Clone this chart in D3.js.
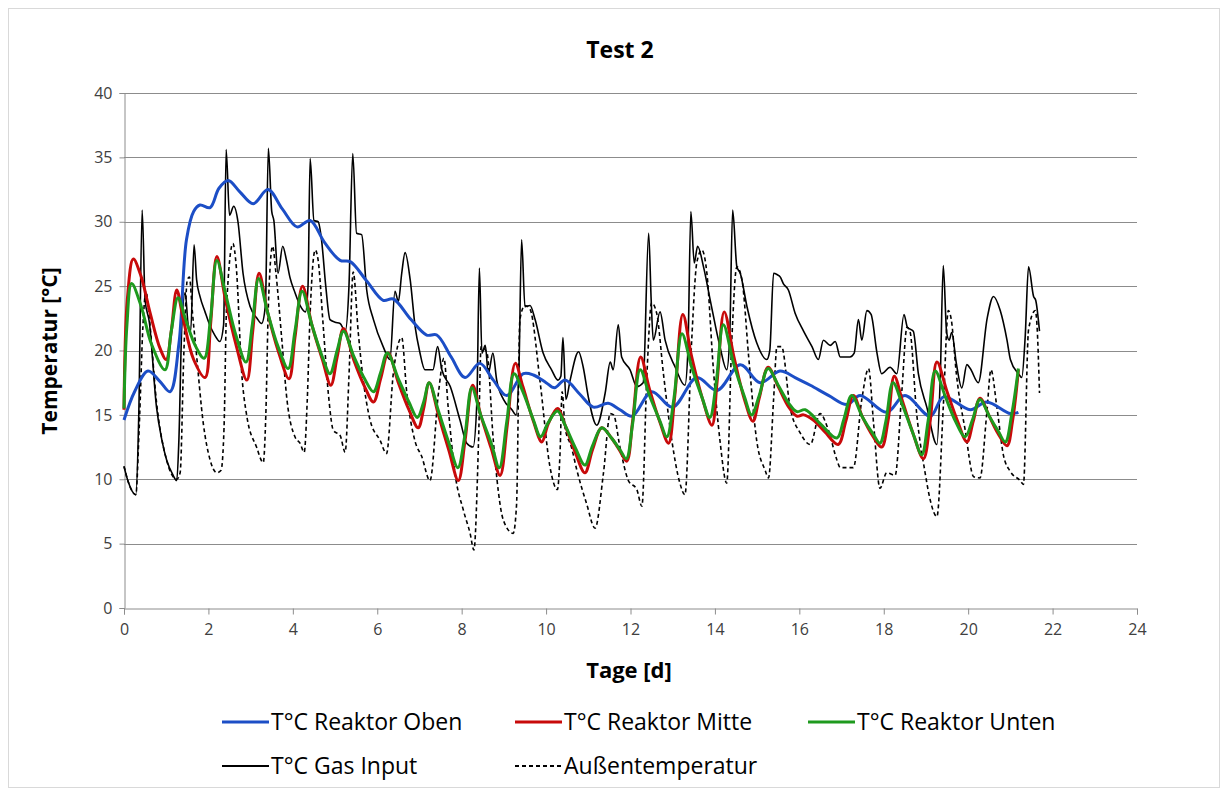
<!DOCTYPE html>
<html>
<head>
<meta charset="utf-8">
<script src="https://cdn.jsdelivr.net/npm/d3@7"></script>
<style>
  body { margin: 0; background: #fff; }
  svg { font-family: "Open Sans", "Liberation Sans", sans-serif; }
</style>
</head>
<body>
<div id="chart"></div>
<script>
'use strict';

// Data: [Tage, °C]
const reaktorOben = [[0,14.6],[0.25,16.8],[0.57,18.4],[0.85,17.6],[1.09,16.8],[1.3,20.5],[1.48,28.6],[1.65,30.8],[1.8,31.3],[2.04,31.1],[2.25,32.6],[2.47,33.2],[2.75,32.3],[3.06,31.4],[3.41,32.5],[3.75,31.0],[4.1,29.6],[4.41,30.1],[4.75,28.4],[5.12,27.0],[5.36,26.9],[5.75,25.4],[6.14,23.9],[6.38,24.0],[6.8,22.4],[7.17,21.2],[7.41,21.2],[7.75,19.5],[8.08,17.9],[8.43,19.0],[8.75,17.7],[9.07,16.5],[9.46,18.2],[9.7,18.1],[10.0,17.5],[10.2,17.1],[10.45,17.7],[10.8,16.6],[11.12,15.6],[11.47,15.9],[11.75,15.4],[12.04,14.9],[12.5,16.8],[13.0,15.6],[13.57,17.9],[14.05,16.9],[14.6,18.9],[15.07,17.5],[15.54,18.4],[15.9,17.9],[16.26,17.3],[16.7,16.5],[17.13,15.8],[17.44,16.5],[18.07,15.2],[18.5,16.5],[19.1,14.9],[19.42,16.4],[20.05,15.4],[20.44,16.0],[21.0,15.1],[21.19,15.2]];

const reaktorMitte = [[0,15.4],[0.08,24],[0.22,27.1],[0.4,25.8],[0.62,22.9],[0.85,20.2],[1.0,19.3],[1.12,21.5],[1.25,24.7],[1.4,22.5],[1.65,19.3],[1.92,17.9],[2.05,22],[2.2,27.3],[2.4,24],[2.65,20.5],[2.91,17.7],[3.05,21.5],[3.2,26.0],[3.4,23],[3.65,20],[3.91,17.8],[4.05,21],[4.23,25.0],[4.45,22],[4.7,19.3],[4.9,17.3],[5.05,19.5],[5.2,21.7],[5.45,19.2],[5.7,17.2],[5.91,16.0],[6.08,17.8],[6.26,19.8],[6.5,17.5],[6.75,15.4],[6.97,14.0],[7.1,15.5],[7.23,17.5],[7.45,15.0],[7.7,12.2],[7.92,9.9],[8.08,13],[8.26,17.3],[8.45,15.0],[8.7,12.4],[8.91,10.3],[9.08,14.2],[9.27,19.0],[9.45,17.2],[9.7,14.5],[9.9,12.9],[10.05,14.3],[10.27,15.5],[10.45,14.2],[10.7,12.0],[10.92,10.5],[11.1,12.3],[11.32,14.0],[11.55,13.2],[11.75,12.2],[11.91,11.4],[12.05,14.5],[12.24,19.5],[12.45,17.0],[12.7,14.4],[12.9,12.8],[13.05,16.5],[13.24,22.8],[13.45,19.5],[13.7,16.3],[13.93,14.2],[14.05,17.5],[14.22,23.0],[14.45,19.5],[14.7,16.2],[14.9,14.5],[15.05,16.3],[15.26,18.7],[15.5,17.2],[15.75,15.6],[15.94,14.9],[16.1,15.0],[16.33,14.6],[16.6,13.7],[16.92,12.7],[17.1,14.5],[17.28,16.5],[17.5,14.8],[17.75,13.3],[17.95,12.5],[18.1,14.5],[18.25,18.0],[18.45,16.0],[18.7,13.5],[18.94,11.6],[19.1,14.5],[19.26,19.1],[19.5,16.8],[19.75,14.5],[19.97,12.9],[20.12,14.5],[20.28,16.3],[20.5,14.9],[20.7,13.6],[20.92,12.6],[21.05,14.5],[21.19,18.5]];

const reaktorUnten = [[0,15.5],[0.07,22],[0.18,25.2],[0.4,23.5],[0.65,20.5],[0.97,18.5],[1.12,21.5],[1.28,24.1],[1.45,22.5],[1.7,20.3],[1.9,19.4],[2.05,22.5],[2.2,27.0],[2.4,24.5],[2.65,21.2],[2.89,19.1],[3.04,22],[3.19,25.6],[3.4,23],[3.65,20.3],[3.89,18.6],[4.05,21.5],[4.22,24.6],[4.45,22],[4.7,19.5],[4.88,18.2],[5.05,20],[5.2,21.5],[5.45,19.5],[5.7,17.8],[5.91,16.8],[6.08,18.3],[6.24,19.8],[6.5,17.8],[6.75,16.0],[6.95,14.8],[7.1,16.0],[7.23,17.5],[7.45,15.3],[7.7,12.8],[7.91,10.9],[8.08,13.5],[8.24,17.1],[8.45,15.0],[8.7,12.8],[8.89,10.9],[9.07,14.5],[9.24,18.2],[9.45,16.8],[9.7,14.6],[9.87,13.3],[10.05,14.4],[10.27,15.3],[10.45,14.2],[10.7,12.4],[10.92,11.1],[11.1,12.6],[11.32,14.0],[11.55,13.2],[11.75,12.3],[11.9,11.6],[12.05,14.3],[12.23,18.5],[12.45,16.5],[12.7,14.5],[12.86,13.3],[13.03,16.3],[13.22,21.3],[13.45,18.7],[13.7,16.3],[13.88,14.8],[14.03,17.5],[14.2,22.0],[14.45,18.9],[14.7,16.4],[14.87,15.0],[15.05,16.5],[15.26,18.6],[15.5,17.3],[15.75,15.9],[15.94,15.25],[16.14,15.4],[16.5,14.3],[16.89,13.2],[17.05,14.6],[17.24,16.5],[17.5,14.8],[17.75,13.5],[17.91,12.8],[18.05,14.5],[18.22,17.5],[18.45,15.7],[18.7,13.5],[18.9,11.9],[19.05,14.5],[19.22,18.4],[19.45,16.5],[19.7,14.5],[19.93,13.3],[20.1,14.6],[20.28,16.2],[20.5,14.9],[20.7,13.8],[20.88,12.9],[21.03,15.0],[21.19,18.6]];

const gasInput = [[0,11.0],[0.1,9.8],[0.28,8.8],[0.35,15],[0.43,30.9],[0.5,23.9],[0.6,22.2],[0.77,15.6],[0.9,13],[1.01,11.5],[1.15,10.4],[1.25,9.9],[1.3,13],[1.37,21.9],[1.45,24.5],[1.52,22],[1.58,21.5],[1.66,28.2],[1.72,25.5],[1.8,24.2],[1.92,23],[2.04,21.9],[2.15,21.2],[2.27,20.7],[2.36,22],[2.42,35.6],[2.5,30.5],[2.6,31.2],[2.7,30],[2.82,26.0],[2.99,23.4],[3.15,22.5],[3.26,22.1],[3.35,23.5],[3.42,35.7],[3.5,30.8],[3.55,30.1],[3.65,26.0],[3.76,28.1],[3.85,27],[3.93,25.7],[4.05,24.5],[4.17,23.5],[4.3,23],[4.36,25],[4.41,34.9],[4.5,30.1],[4.6,30],[4.68,28.6],[4.78,25],[4.88,22.4],[5.0,22.2],[5.12,22.1],[5.24,21.5],[5.33,25],[5.42,35.3],[5.51,29.1],[5.63,29.0],[5.75,24.7],[5.91,22.4],[6.14,20.3],[6.3,19.3],[6.42,24.6],[6.5,23.8],[6.58,26],[6.66,27.6],[6.78,25.5],[6.9,21.8],[7.0,20],[7.13,18.5],[7.32,18.5],[7.43,20.3],[7.53,18.5],[7.73,17.2],[7.96,14.6],[8.12,12.8],[8.27,12.5],[8.36,16],[8.42,26.4],[8.48,19.8],[8.56,20.4],[8.63,18.2],[8.74,19.8],[8.83,17.7],[8.99,16.2],[9.19,15.4],[9.29,15.0],[9.36,19],[9.42,28.6],[9.5,23.4],[9.62,23.5],[9.74,22.4],[9.93,19.8],[10.13,18.5],[10.28,17.7],[10.35,18],[10.4,21.0],[10.47,16.2],[10.57,17.7],[10.77,19.9],[10.88,18.7],[11.0,16.4],[11.2,14.2],[11.4,16.7],[11.52,19.1],[11.59,18.5],[11.71,22.0],[11.79,19.5],[11.99,18.5],[12.15,17.2],[12.3,17.5],[12.43,29.1],[12.49,23.9],[12.54,20.8],[12.7,23.0],[12.82,20.8],[13.06,18.7],[13.29,17.3],[13.36,20],[13.43,30.8],[13.51,26.8],[13.59,28.1],[13.73,26.5],[13.89,23.9],[14.12,20.3],[14.28,18.5],[14.35,21],[14.42,30.9],[14.52,26.5],[14.6,26.0],[14.76,23.4],[14.99,20.6],[15.23,19.3],[15.3,20],[15.39,26.0],[15.47,25.9],[15.55,25.7],[15.62,25.2],[15.74,24.7],[15.9,22.9],[16.1,21.5],[16.3,20.3],[16.45,19.3],[16.57,20.8],[16.73,20.4],[16.85,20.7],[16.97,19.5],[17.2,19.5],[17.3,19.8],[17.4,22.4],[17.48,20.8],[17.6,23.1],[17.7,22.8],[17.84,19.8],[17.95,18.2],[18.15,18.7],[18.31,18.2],[18.48,22.8],[18.56,21.8],[18.7,21.5],[18.82,18.2],[19.02,15.6],[19.26,12.7],[19.34,18],[19.41,26.6],[19.49,21.4],[19.55,20.8],[19.61,21.4],[19.72,19],[19.85,17.1],[19.97,18.9],[20.05,18.6],[20.24,17.5],[20.45,22.5],[20.6,24.2],[20.76,23.1],[20.92,20.8],[21.0,19.3],[21.19,18.2],[21.27,17.9],[21.35,21],[21.43,26.5],[21.55,24.2],[21.6,23.9],[21.69,21.5]];

const aussen = [[0,11.0],[0.1,9.8],[0.28,8.8],[0.36,14],[0.45,22],[0.52,24.6],[0.6,22.5],[0.77,16],[1.0,11.6],[1.25,10.0],[1.33,10.5],[1.42,20],[1.5,25.5],[1.55,25.7],[1.62,23],[1.7,20.3],[1.88,14.3],[2.04,11.5],[2.2,10.5],[2.3,10.7],[2.37,14],[2.43,23.4],[2.58,28.3],[2.66,26.5],[2.79,18.2],[2.91,14.9],[3.14,12.5],[3.3,11.3],[3.36,15],[3.42,23.4],[3.52,28.1],[3.6,26],[3.74,20.8],[3.86,16.2],[4.05,13.3],[4.17,12.8],[4.27,12.1],[4.34,16],[4.41,22.9],[4.53,27.8],[4.6,27],[4.72,21.9],[4.84,16.7],[4.96,13.8],[5.12,13.4],[5.24,12.1],[5.33,18],[5.43,26.1],[5.55,21.4],[5.65,18.2],[5.83,14.6],[6.07,13.0],[6.22,12.0],[6.38,18.2],[6.58,21.0],[6.7,16.7],[6.9,12.9],[7.05,11.8],[7.25,9.9],[7.45,16.7],[7.58,19.4],[7.68,15.6],[7.84,10.5],[8.04,7.6],[8.2,5.8],[8.29,4.5],[8.4,13.0],[8.46,20.3],[8.6,19.8],[8.75,13.0],[8.99,6.8],[9.22,5.8],[9.3,8],[9.38,22.4],[9.5,23.5],[9.62,23.2],[9.86,17.5],[10.09,11.0],[10.27,9.2],[10.33,12],[10.38,16.8],[10.45,14],[10.6,12.5],[10.73,10.7],[10.96,8.1],[11.16,6.2],[11.36,10.5],[11.52,15.1],[11.6,15.0],[11.75,12.5],[11.95,9.9],[12.15,9.2],[12.27,7.9],[12.39,18.2],[12.5,23.7],[12.62,22.9],[12.78,18.2],[12.98,13.0],[13.17,9.7],[13.29,8.8],[13.45,20.8],[13.57,26.8],[13.69,27.8],[13.81,26.0],[13.96,18.7],[14.12,13.0],[14.28,9.7],[14.4,20.8],[14.52,26.5],[14.64,25.5],[14.8,19.5],[14.99,13.0],[15.19,10.7],[15.27,10.1],[15.39,16.2],[15.47,20.3],[15.58,20.3],[15.78,15.6],[16.02,13.6],[16.26,12.7],[16.49,15.1],[16.69,13.8],[16.89,11.5],[16.97,10.9],[17.28,10.9],[17.48,16.2],[17.64,18.6],[17.76,14.3],[17.91,9.3],[18.07,10.5],[18.27,10.3],[18.43,16.9],[18.55,21.8],[18.62,21.5],[18.78,15.1],[18.98,10.5],[19.1,8.4],[19.26,7.1],[19.41,15.6],[19.53,23.1],[19.6,22.4],[19.72,18.2],[19.93,13.8],[20.13,10.2],[20.28,10.1],[20.44,15.1],[20.54,18.5],[20.68,15.6],[20.84,11.8],[21.0,10.6],[21.23,9.9],[21.31,9.6],[21.43,21.6],[21.59,23.1],[21.63,22],[21.69,16.7]];

const xTicks = [0, 2, 4, 6, 8, 10, 12, 14, 16, 18, 20, 22, 24];
const yTicks = [0, 5, 10, 15, 20, 25, 30, 35, 40];

const seriesNames = ['T°C Reaktor Oben', 'T°C Reaktor Mitte', 'T°C Reaktor Unten', 'T°C Gas Input', 'Außentemperatur'];

const settings = {
    width: 1228,
    height: 791,
    left: 124,
    right: 1137,
    top: 93,
    bottom: 608,
};

const svg = d3.select('#chart')
    .append('svg')
    .attr('width', settings.width)
    .attr('height', settings.height);

// chart frame
svg.append('rect')
    .attr('x', 8.5).attr('y', 8.5)
    .attr('width', 1211).attr('height', 779)
    .attr('fill', '#fff')
    .attr('stroke', '#d9d9d9');

const x = d3.scaleLinear().domain([0, 24]).range([settings.left, settings.right]);
const y = d3.scaleLinear().domain([0, 40]).range([settings.bottom, settings.top]);

// gridlines
svg.append('g')
    .selectAll('line')
    .data(yTicks.filter(d => d > 0))
    .enter()
    .append('line')
    .attr('x1', settings.left).attr('x2', settings.right)
    .attr('y1', d => Math.round(y(d)) + 0.5).attr('y2', d => Math.round(y(d)) + 0.5)
    .attr('stroke', '#8c8c8c')
    .attr('stroke-width', 1);

// axes
const yAxis = svg.append('g')
    .attr('transform', `translate(${settings.left + 0.5},0)`)
    .call(d3.axisLeft(y).tickValues(yTicks).tickSize(5).tickPadding(7));
const xAxis = svg.append('g')
    .attr('transform', `translate(0,${settings.bottom + 0.5})`)
    .call(d3.axisBottom(x).tickValues(xTicks).tickSize(6).tickPadding(9));

[xAxis, yAxis].forEach(a => {
    a.select('.domain').attr('stroke', '#8c8c8c');
    a.selectAll('.tick line').attr('stroke', '#8c8c8c');
    a.selectAll('.tick text')
        .attr('fill', '#404040')
        .attr('font-size', '16px')
        .attr('font-family', '"Open Sans", sans-serif');
});

// lines
const smooth = d3.line()
    .x(d => x(d[0]))
    .y(d => y(d[1]))
    .curve(d3.curveCatmullRom.alpha(0.5));
const sharp = d3.line()
    .x(d => x(d[0]))
    .y(d => y(d[1]))
    .curve(d3.curveMonotoneX);

const plot = svg.append('g').attr('id', 'lines');

plot.append('path').datum(aussen)
    .attr('d', sharp).attr('fill', 'none')
    .attr('stroke', '#000').attr('stroke-width', 1.6)
    .attr('stroke-dasharray', '4,3');
plot.append('path').datum(gasInput)
    .attr('d', sharp).attr('fill', 'none')
    .attr('stroke', '#000').attr('stroke-width', 1.6);
plot.append('path').datum(reaktorOben)
    .attr('d', smooth).attr('fill', 'none')
    .attr('stroke', '#1c4ec6').attr('stroke-width', 3);
plot.append('path').datum(reaktorMitte)
    .attr('d', smooth).attr('fill', 'none')
    .attr('stroke', '#c80a0a').attr('stroke-width', 3);
plot.append('path').datum(reaktorUnten)
    .attr('d', smooth).attr('fill', 'none')
    .attr('stroke', '#1e9a1e').attr('stroke-width', 3);

// title and axis titles
svg.append('text')
    .text('Test 2')
    .attr('x', 620).attr('y', 58)
    .attr('text-anchor', 'middle')
    .attr('font-size', '23px')
    .attr('font-weight', 'bold');

svg.append('text')
    .text('Tage [d]')
    .attr('x', 629).attr('y', 678)
    .attr('text-anchor', 'middle')
    .attr('font-size', '22px')
    .attr('font-weight', 'bold');

svg.append('text')
    .text('Temperatur [°C]')
    .attr('transform', 'translate(57,351) rotate(-90)')
    .attr('text-anchor', 'middle')
    .attr('font-size', '21px')
    .attr('font-weight', 'bold');

// legend
const legendItems = [
    { name: seriesNames[0], color: '#1c4ec6', width: 3, dash: null, x: 222, y: 722 },
    { name: seriesNames[1], color: '#c80a0a', width: 3, dash: null, x: 515, y: 722 },
    { name: seriesNames[2], color: '#1e9a1e', width: 3, dash: null, x: 808, y: 722 },
    { name: seriesNames[3], color: '#000', width: 1.8, dash: null, x: 222, y: 766 },
    { name: seriesNames[4], color: '#000', width: 1.8, dash: '4,3', x: 515, y: 766 },
];

const legend = svg.append('g').attr('id', 'legend');
const item = legend.selectAll('g')
    .data(legendItems)
    .enter()
    .append('g')
    .attr('transform', d => `translate(${d.x},${d.y})`);
item.append('line')
    .attr('x1', 0).attr('x2', 47)
    .attr('stroke', d => d.color)
    .attr('stroke-width', d => d.width)
    .attr('stroke-dasharray', d => d.dash);
item.append('text')
    .text(d => d.name)
    .attr('x', 49)
    .attr('dy', '0.35em')
    .attr('font-size', '23px');
</script>
</body>
</html>
